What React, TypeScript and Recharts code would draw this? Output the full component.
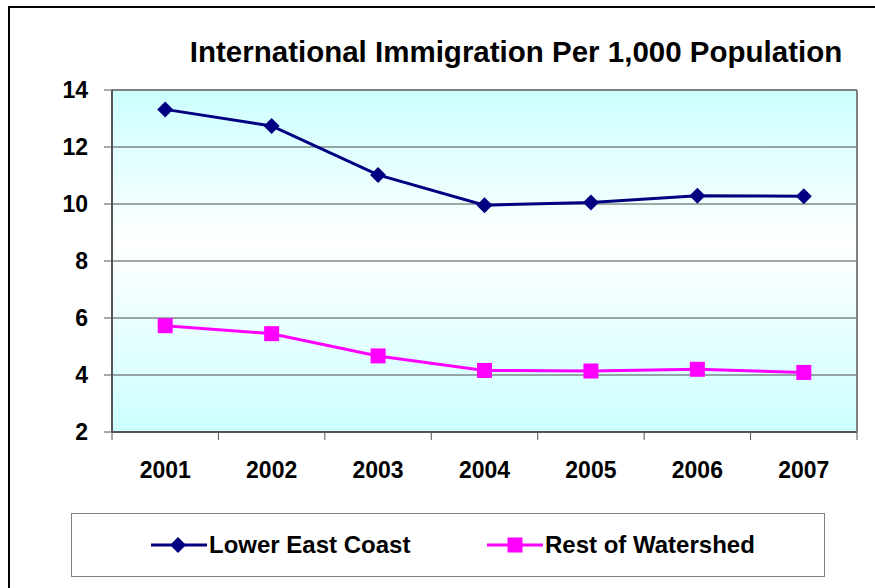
import { LineChart, Line, XAxis, YAxis, CartesianGrid, ReferenceLine } from "recharts"

const years = ["2001", "2002", "2003", "2004", "2005", "2006", "2007"]
const lowerEastCoast = [13.32, 12.74, 11.02, 9.96, 10.05, 10.29, 10.27]
const restOfWatershed = [5.73, 5.45, 4.67, 4.16, 4.14, 4.2, 4.09]
const yTicks = [2, 4, 6, 8, 10, 12, 14]

const data = years.map((year, i) => ({
  year,
  lec: lowerEastCoast[i],
  row: restOfWatershed[i],
}))

const NAVY = "#000080"
const MAGENTA = "#FF00FF"
const FONT = "'Liberation Sans', Arial, sans-serif"
const PLOT_W = 745
const HALF_BAND = PLOT_W / years.length / 2

const Diamond = (props: any) => {
  const { cx, cy } = props
  if (cx == null || cy == null) return <g />
  const r = 8
  return <polygon points={`${cx},${cy - r} ${cx + r},${cy} ${cx},${cy + r} ${cx - r},${cy}`} fill={NAVY} />
}

const Square = (props: any) => {
  const { cx, cy } = props
  if (cx == null || cy == null) return <g />
  const r = 7.5
  return <rect x={cx - r} y={cy - r} width={r * 2} height={r * 2} fill={MAGENTA} />
}

// Excel-style category axis: tick marks between categories, label in the middle
const YearTick = (props: any) => {
  const { x, y, payload, index } = props
  const last = index === years.length - 1
  return (
    <g>
      <line x1={x - HALF_BAND} y1={y} x2={x - HALF_BAND} y2={y + 8} stroke="#555" />
      {last && <line x1={x + HALF_BAND} y1={y} x2={x + HALF_BAND} y2={y + 8} stroke="#555" />}
      <text x={x} y={y + 46} textAnchor="middle" fill="#000" fontSize={23} fontWeight="bold" fontFamily={FONT}>
        {payload.value}
      </text>
    </g>
  )
}

export default function App() {
  return (
    <div style={{ position: "fixed", left: 0, top: 0, width: 875, height: 588, overflow: "hidden", background: "#fff", fontFamily: FONT }}>
      <div style={{ position: "absolute", left: 8, top: 6, width: 900, height: 700, border: "2px solid #000" }} />
      <div
        style={{
          position: "absolute",
          left: 152,
          top: 37,
          width: 728,
          textAlign: "center",
          whiteSpace: "nowrap",
          fontSize: 29.5,
          lineHeight: "29px",
          fontWeight: "bold",
          color: "#000",
        }}
      >
        International Immigration Per 1,000 Population
      </div>
      <div style={{ position: "absolute", left: 0, top: 0 }}>
        <LineChart width={875} height={588} data={data} margin={{ top: 90, right: 17, bottom: 126, left: 52 }}>
          <defs>
            <linearGradient id="plotBg" x1="0" y1="0" x2="0" y2="1">
              <stop offset="0%" stopColor="#CCFFFF" />
              <stop offset="45%" stopColor="#FFFFFF" />
              <stop offset="100%" stopColor="#CCFFFF" />
            </linearGradient>
          </defs>
          <CartesianGrid vertical={false} stroke="#4d4d4d" fill="url(#plotBg)" fillOpacity={1} />
          <ReferenceLine y={14} stroke="#808080" strokeWidth={2} />
          <XAxis
            dataKey="year"
            type="category"
            height={30}
            padding={{ left: HALF_BAND, right: HALF_BAND }}
            interval={0}
            axisLine={{ stroke: "#555", strokeWidth: 2 }}
            tickLine={false}
            tickSize={0}
            tickMargin={0}
            tick={<YearTick />}
          />
          <YAxis
            domain={[2, 14]}
            ticks={yTicks}
            width={60}
            interval={0}
            axisLine={{ stroke: "#555", strokeWidth: 2 }}
            tickLine={{ stroke: "#555" }}
            tickSize={8}
            tickMargin={16}
            tick={{ fill: "#000", fontSize: 23, fontWeight: "bold", fontFamily: FONT }}
          />
          <YAxis
            yAxisId="right"
            orientation="right"
            domain={[2, 14]}
            ticks={yTicks}
            width={1}
            tickLine={false}
            tick={false}
            axisLine={{ stroke: "#808080", strokeWidth: 2 }}
          />
          <Line dataKey="lec" stroke={NAVY} strokeWidth={3} dot={<Diamond />} activeDot={false} isAnimationActive={false} />
          <Line dataKey="row" stroke={MAGENTA} strokeWidth={3} dot={<Square />} activeDot={false} isAnimationActive={false} />
        </LineChart>
      </div>
      <div
        style={{
          position: "absolute",
          left: 71,
          top: 513,
          width: 754,
          height: 64,
          border: "1px solid #808080",
          boxSizing: "border-box",
        }}
      />
      <div style={{ position: "absolute", left: 151, top: 529, height: 32, display: "flex", alignItems: "center", fontSize: 24, fontWeight: "bold", color: "#000" }}>
        <svg width={56} height={20} style={{ marginRight: 2 }}>
          <line x1={0} y1={10} x2={56} y2={10} stroke={NAVY} strokeWidth={3} />
          <polygon points="27,2 35,10 27,18 19,10" fill={NAVY} />
        </svg>
        <span>Lower East Coast</span>
      </div>
      <div style={{ position: "absolute", left: 487, top: 529, height: 32, display: "flex", alignItems: "center", fontSize: 24, fontWeight: "bold", color: "#000" }}>
        <svg width={56} height={20} style={{ marginRight: 2 }}>
          <line x1={0} y1={10} x2={56} y2={10} stroke={MAGENTA} strokeWidth={3} />
          <rect x={20.5} y={2.5} width={15} height={15} fill={MAGENTA} />
        </svg>
        <span>Rest of Watershed</span>
      </div>
    </div>
  )
}
